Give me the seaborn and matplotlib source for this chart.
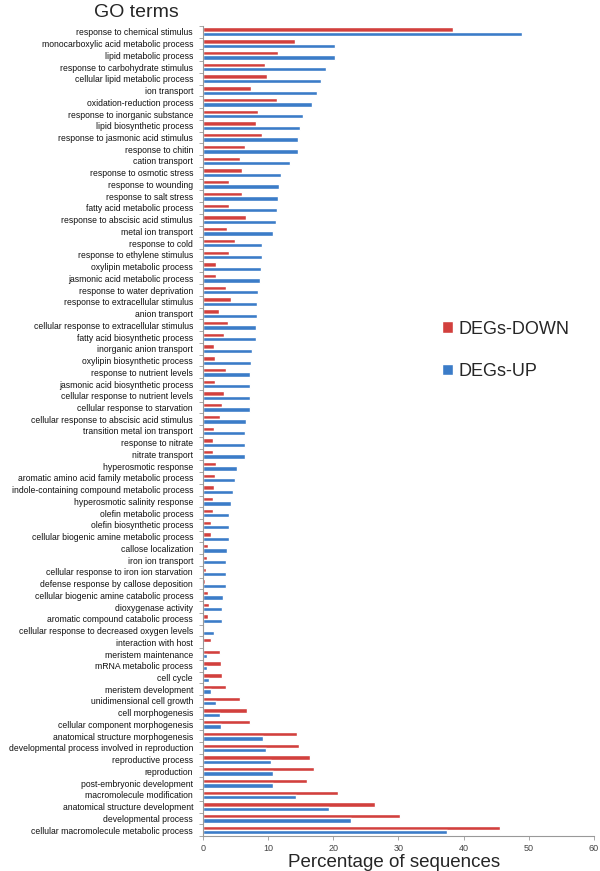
import matplotlib
matplotlib.use("Agg")
import matplotlib.pyplot as plt
import seaborn as sns
import pandas as pd
import numpy as np

categories = [
    "response to chemical stimulus",
    "monocarboxylic acid metabolic process",
    "lipid metabolic process",
    "response to carbohydrate stimulus",
    "cellular lipid metabolic process",
    "ion transport",
    "oxidation-reduction process",
    "response to inorganic substance",
    "lipid biosynthetic process",
    "response to jasmonic acid stimulus",
    "response to chitin",
    "cation transport",
    "response to osmotic stress",
    "response to wounding",
    "response to salt stress",
    "fatty acid metabolic process",
    "response to abscisic acid stimulus",
    "metal ion transport",
    "response to cold",
    "response to ethylene stimulus",
    "oxylipin metabolic process",
    "jasmonic acid metabolic process",
    "response to water deprivation",
    "response to extracellular stimulus",
    "anion transport",
    "cellular response to extracellular stimulus",
    "fatty acid biosynthetic process",
    "inorganic anion transport",
    "oxylipin biosynthetic process",
    "response to nutrient levels",
    "jasmonic acid biosynthetic process",
    "cellular response to nutrient levels",
    "cellular response to starvation",
    "cellular response to abscisic acid stimulus",
    "transition metal ion transport",
    "response to nitrate",
    "nitrate transport",
    "hyperosmotic response",
    "aromatic amino acid family metabolic process",
    "indole-containing compound metabolic process",
    "hyperosmotic salinity response",
    "olefin metabolic process",
    "olefin biosynthetic process",
    "cellular biogenic amine metabolic process",
    "callose localization",
    "iron ion transport",
    "cellular response to iron ion starvation",
    "defense response by callose deposition",
    "cellular biogenic amine catabolic process",
    "dioxygenase activity",
    "aromatic compound catabolic process",
    "cellular response to decreased oxygen levels",
    "interaction with host",
    "meristem maintenance",
    "mRNA metabolic process",
    "cell cycle",
    "meristem development",
    "unidimensional cell growth",
    "cell morphogenesis",
    "cellular component morphogenesis",
    "anatomical structure morphogenesis",
    "developmental process involved in reproduction",
    "reproductive process",
    "reproduction",
    "post-embryonic development",
    "macromolecule modification",
    "anatomical structure development",
    "developmental process",
    "cellular macromolecule metabolic process",
]

degs_down = [
    38.3, 14.2, 11.6, 9.5, 9.8, 7.4, 11.4, 8.4, 8.2, 9.1,
    6.4, 5.7, 6.0, 4.0, 6.0, 4.0, 6.6, 3.7, 5.0, 4.0,
    2.0, 2.0, 3.6, 4.3, 2.5, 3.9, 3.2, 1.7, 1.9, 3.6,
    1.9, 3.3, 3.0, 2.7, 1.7, 1.5, 1.5, 2.0, 1.9, 1.7,
    1.5, 1.5, 1.3, 1.2, 0.8, 0.6, 0.5, 0.4, 0.8, 0.9,
    0.8, 0.2, 1.2, 2.6, 2.8, 3.0, 3.6, 5.7, 6.8, 7.2,
    14.5, 14.8, 16.5, 17.1, 16.0, 20.7, 26.4, 30.2, 45.6,
]

degs_up = [
    48.9, 20.3, 20.3, 18.9, 18.1, 17.5, 16.8, 15.3, 14.9, 14.6,
    14.6, 13.4, 12.0, 11.7, 11.5, 11.4, 11.2, 10.7, 9.1, 9.1,
    9.0, 8.7, 8.4, 8.3, 8.3, 8.2, 8.2, 7.6, 7.4, 7.3,
    7.3, 7.2, 7.2, 6.6, 6.5, 6.5, 6.4, 5.2, 4.9, 4.7,
    4.3, 4.0, 4.0, 4.0, 3.7, 3.6, 3.6, 3.6, 3.1, 3.0,
    2.9, 1.7, 0.0, 0.6, 0.7, 0.9, 1.2, 2.1, 2.6, 2.8,
    9.3, 9.7, 10.5, 10.7, 10.8, 14.3, 19.4, 22.7, 37.4,
]

series_names = ["DEGs-DOWN", "DEGs-UP"]
x_ticks = [0, 10, 20, 30, 40, 50, 60]

df = pd.DataFrame({
    "term": categories * 2,
    "value": degs_down + degs_up,
    "series": [series_names[0]] * len(categories) + [series_names[1]] * len(categories),
})

sns.set_theme(style="white")
plt.rcParams["font.family"] = ["Liberation Sans", "DejaVu Sans"]

fig = plt.figure(figsize=(6.0, 8.71), dpi=100)
ax = fig.add_axes([0.338, 0.0402, 0.652, 0.930])

palette = {"DEGs-DOWN": "#d2403d", "DEGs-UP": "#3b7cc8"}
sns.barplot(data=df, x="value", y="term", hue="series", order=categories,
            hue_order=series_names, palette=palette, orient="h",
            width=0.74, gap=0, saturation=1, ax=ax, legend=True)

ax.set_xlim(0, 60)
ax.set_ylim(len(categories) - 0.5, -0.5)
ax.set_xticks(x_ticks)
ax.set_xticklabels([str(t) for t in x_ticks], fontsize=6.5, color="#444444")
ax.set_ylabel("")
ax.set_xlabel("Percentage of sequences", fontsize=13.5)
ax.xaxis.set_label_coords(0.488, -0.0225)
for lab in ax.get_yticklabels():
    lab.set_fontsize(6.2)
    lab.set_color("#111111")

for s in ["top", "right"]:
    ax.spines[s].set_visible(False)
for s in ["left", "bottom"]:
    ax.spines[s].set_color("#999999")
    ax.spines[s].set_linewidth(0.8)

ax.tick_params(axis="y", length=0, pad=7)
ax.set_yticks(np.arange(-0.5, len(categories), 1), minor=True)
ax.tick_params(axis="y", which="minor", length=3, color="#999999", width=0.6, left=True)
ax.tick_params(axis="x", length=3, color="#999999", width=0.6, bottom=True, pad=3)

leg = ax.legend(loc="center left", bbox_to_anchor=(0.737, 0.598),
                bbox_transform=fig.transFigure, frameon=False,
                fontsize=13, handlelength=0.6, handleheight=0.6,
                handletextpad=0.3, labelspacing=1.4, borderpad=0, borderaxespad=0)

fig.text(0.227, 0.9805, "GO terms", fontsize=14, ha="center", va="baseline")

fig.savefig("out.png", dpi=100)
